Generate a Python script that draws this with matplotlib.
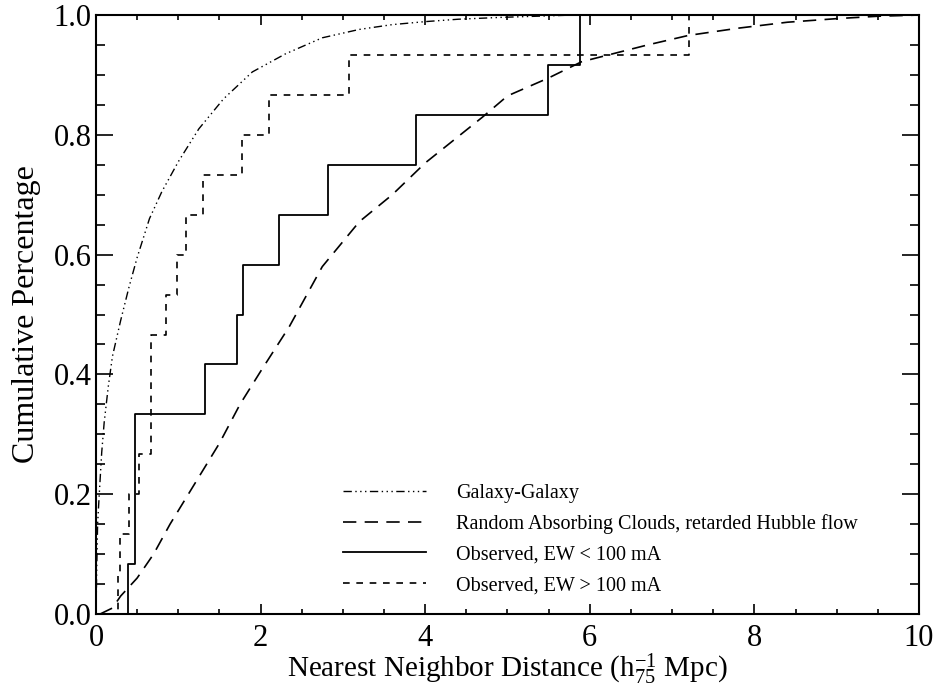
import matplotlib
matplotlib.use("Agg")
import matplotlib.pyplot as plt
from matplotlib.ticker import MultipleLocator, FormatStrFormatter

plt.rcParams['font.family'] = ['Liberation Serif', 'DejaVu Serif']
plt.rcParams['mathtext.fontset'] = 'custom'
plt.rcParams['mathtext.rm'] = 'Liberation Serif'
plt.rcParams['mathtext.it'] = 'Liberation Serif:italic'

# Galaxy-galaxy nearest neighbour cumulative distribution
gal_x = [0.0, 0.01, 0.02, 0.04, 0.07, 0.1, 0.15, 0.2, 0.3, 0.4, 0.5, 0.65, 0.8, 1.0,
         1.25, 1.55, 1.9, 2.3, 2.75, 3.2, 3.6, 4.0, 4.4, 4.9, 5.8, 7.0, 10.0]
gal_y = [0.0, 0.08, 0.15, 0.2, 0.27, 0.32, 0.38, 0.43, 0.49, 0.545, 0.595, 0.66, 0.705, 0.755,
         0.81, 0.86, 0.905, 0.935, 0.962, 0.976, 0.984, 0.989, 0.993, 0.996, 1.0, 1.0, 1.0]

# Random absorbing clouds, retarded Hubble flow
rand_x = [0.05, 0.2, 0.3, 0.4, 0.5, 0.7, 0.9, 1.1, 1.3, 1.5, 1.75, 2.0, 2.35, 2.75, 3.2,
          3.6, 4.0, 4.4, 4.7, 5.0, 5.5, 5.9, 6.3, 6.7, 7.2, 7.8, 8.4, 9.0, 9.5, 10.0]
rand_y = [0.0, 0.01, 0.03, 0.045, 0.06, 0.10, 0.15, 0.195, 0.24, 0.285, 0.35, 0.405, 0.48,
          0.58, 0.655, 0.70, 0.753, 0.797, 0.83, 0.865, 0.895, 0.922, 0.936, 0.95, 0.966,
          0.978, 0.988, 0.994, 0.998, 1.0]

# observed absorbers: nearest galaxy distance for each line
weak_dist = [0.39, 0.48, 0.48, 0.48, 1.32, 1.71, 1.79, 2.22, 2.82, 3.89, 5.49, 5.88]
strong_dist = [0.27, 0.29, 0.40, 0.52, 0.665, 0.665, 0.665, 0.85, 0.99, 1.10, 1.30,
               1.78, 2.10, 3.08, 7.2]


def cumulative(dists):
    n = len(dists)
    xs = [0.0] + sorted(dists) + [10.0]
    ys = [0.0] + [(i + 1) / n for i in range(n)] + [1.0]
    return xs, ys


fig = plt.figure(figsize=(9.38, 6.9), dpi=100)
ax = fig.add_axes([0.1023, 0.1101, 0.8774, 0.8681])

ax.plot(gal_x, gal_y, color='black', lw=1.0,
        linestyle=(0, (6, 2.5, 1, 2.5, 1, 2.5, 1, 2.5)), label='Galaxy-Galaxy')
ax.plot(rand_x, rand_y, color='black', lw=1.2, linestyle=(0, (8, 5)),
        label='Random Absorbing Clouds, retarded Hubble flow')
wx, wy = cumulative(weak_dist)
ax.step(wx, wy, where='post', color='black', lw=1.3, label='Observed, EW < 100 mA')
sx, sy = cumulative(strong_dist)
ax.step(sx, sy, where='post', color='black', lw=1.2, linestyle=(0, (4, 4)),
        label='Observed, EW > 100 mA')

ax.set_xlim(0, 10)
ax.set_ylim(0, 1.0)
ax.xaxis.set_major_locator(MultipleLocator(2))
ax.xaxis.set_minor_locator(MultipleLocator(0.5))
ax.yaxis.set_major_locator(MultipleLocator(0.2))
ax.yaxis.set_minor_locator(MultipleLocator(0.05))
ax.yaxis.set_major_formatter(FormatStrFormatter('%.1f'))

for s in ax.spines.values():
    s.set_linewidth(1.5)
ax.tick_params(which='both', direction='in', top=True, right=True, width=1.2, labelsize=22)
ax.tick_params(axis='x', which='major', length=7, pad=7)
ax.tick_params(axis='x', which='minor', length=3.5)
ax.tick_params(axis='y', which='major', length=12, pad=3)
ax.tick_params(axis='y', which='minor', length=6.5)

ax.set_xlabel(r'Nearest Neighbor Distance (h$^{-1}_{75}$ Mpc)', fontsize=21, labelpad=-1)
ax.set_ylabel('Cumulative Percentage', fontsize=23, labelpad=9)

ax.legend(loc='upper left', bbox_to_anchor=(0.30, 0.218), frameon=False, fontsize=14.5,
          handlelength=4.15, handletextpad=1.45, labelspacing=0.57, borderpad=0,
          borderaxespad=0)

fig.savefig('out.png', dpi=100)
